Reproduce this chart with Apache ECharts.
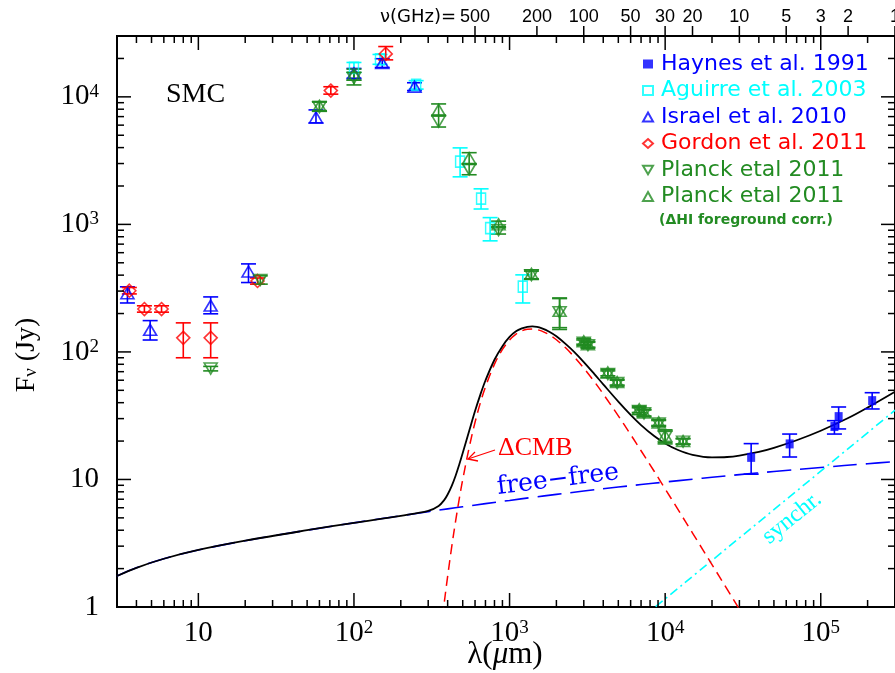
<!DOCTYPE html>
<html>
<head>
<meta charset="utf-8">
<title>SMC spectral energy distribution</title>
<script src="https://cdn.jsdelivr.net/npm/echarts@6/dist/echarts.min.js"></script>
<style>
  html, body { margin: 0; padding: 0; background: #ffffff; }
  #chart { width: 895px; height: 673px; }
</style>
</head>
<body>
<div id="chart"></div>
<script>
// ---------------------------------------------------------------------------
// Small Magellanic Cloud: integrated flux density F_nu (Jy) versus wavelength
// lambda (micron).  Each measurement row is [lambda, F, F_low, F_high].
// ---------------------------------------------------------------------------
const haynes1991 = [
  [35700, 14.9, 11.0, 19.1],
  [63100, 19.0, 15.0, 22.7],
  [122400, 26.0, 22.7, 28.9],
  [130300, 31.1, 24.9, 37.0],
  [214000, 41.5, 35.7, 47.9]
];
const aguirre2003 = [
  [100, 16900, 15500, 18600],
  [147, 19700, 18000, 21500],
  [251, 12400, 11500, 13400],
  [481, 3110, 2360, 3980],
  [656, 1590, 1320, 1900],
  [750, 934, 743, 1130],
  [1216, 325, 242, 402]
];
const israel2010 = [
  [3.5, 289, 242, 324],
  [4.9, 149, 124, 176],
  [12, 231, 199, 270],
  [21, 427, 350, 490],
  [57, 6900, 6250, 7900],
  [100, 15300, 14000, 16700],
  [152, 18400, 17000, 19900],
  [245, 12000, 11200, 12900]
];
const gordon2011 = [
  [3.6, 302, 285, 320],
  [4.5, 217, 205, 230],
  [5.8, 217, 205, 230],
  [8.0, 129, 90, 169],
  [12, 129, 90, 169],
  [24, 360, 340, 380],
  [71, 11200, 10500, 12000],
  [160, 21700, 19500, 24800]
];
const planck2011 = [
  [12, 74, 71, 77],
  [25, 367, 340, 395],
  [60, 8300, 7700, 9100],
  [100, 14000, 12400, 15600],
  [350, 6400, 5800, 7100],
  [550, 2700, 2450, 2950],
  [850, 900, 840, 960],
  [1382, 400, 370, 430],
  [2097, 205, 150, 262],
  [2998, 118, 112, 124],
  [3189, 113, 107, 119],
  [4283, 67, 63, 71],
  [4915, 57, 54, 60],
  [6813, 34.5, 32.5, 36.5],
  [7312, 33, 31, 35],
  [9085, 27.5, 26, 29],
  [9993, 21.5, 19, 24],
  [13034, 19.8, 18.8, 20.8]
];
const planck2011HI = [
  [60, 8500, 7800, 9200],
  [100, 15000, 13500, 16500],
  [350, 7900, 7200, 8800],
  [550, 3300, 3000, 3650],
  [850, 1000, 940, 1060],
  [1382, 410, 375, 440],
  [2097, 210, 155, 265],
  [2998, 121, 115, 127],
  [3189, 115, 109, 121],
  [4283, 69, 65, 73],
  [4915, 58, 55, 61],
  [6813, 35.5, 33.5, 37.5],
  [7312, 33.5, 31.5, 35.5],
  [9085, 28, 26.5, 29.5],
  [9993, 22, 19.5, 24.5],
  [13034, 20, 19, 21]
];

// Model components, [lambda, F]
const modelTotal = [
  [3, 1.75], [4, 2.03], [6, 2.39], [10, 2.80], [20, 3.31], [50, 4.00],
  [100, 4.57], [200, 5.19], [300, 5.66], [350, 6.19], [380, 6.89],
  [400, 7.62], [425, 8.90], [450, 10.7], [475, 13.1], [500, 16.1],
  [550, 24.0], [600, 34.4], [650, 46.5], [700, 59.7], [800, 86.8],
  [900, 111], [1000, 131], [1100, 145], [1200, 153], [1300, 157.5],
  [1400, 158.4], [1500, 157], [1600, 153.6], [1800, 144], [2000, 132.5],
  [2300, 115], [2600, 100], [3000, 83.2], [3500, 67.3], [4000, 55.7],
  [5000, 40.8], [6000, 32.1], [7000, 26.7], [8500, 21.9], [10000, 19.15],
  [12000, 17.1], [15000, 15.6], [20000, 14.9], [25000, 15.0], [30000, 15.4],
  [40000, 16.45], [50000, 17.7], [70000, 20.3], [100000, 24.1],
  [150000, 30.3], [200000, 36.6], [300000, 48.7]
];
const cmbExcess = [
  [360, 0.62], [370, 0.82], [380, 1.07], [400, 1.74], [425, 2.97], [450, 4.72],
  [475, 7.04], [500, 9.99], [550, 17.8], [600, 28.1], [650, 40.1],
  [700, 53.2], [800, 80.2], [900, 104.6], [1000, 124], [1100, 137.7],
  [1200, 146.2], [1300, 150.4], [1400, 151.2], [1500, 149.6], [1600, 146.2],
  [1800, 136.3], [2000, 124.6], [2300, 107.2], [2600, 91.7], [3000, 74.7],
  [3500, 58.6], [4000, 46.8], [5000, 31.5], [6000, 22.5], [7000, 16.8],
  [8500, 11.6], [10000, 8.44], [12000, 5.9], [15000, 3.8], [20000, 2.15],
  [25000, 1.38], [30000, 0.96], [35000, 0.71]
];
const freeFree = [
  [3, 1.75], [4, 2.03], [6, 2.39], [10, 2.80], [20, 3.31], [50, 4.00],
  [100, 4.57], [200, 5.19], [300, 5.59], [400, 5.88], [500, 6.11],
  [700, 6.46], [1000, 6.85], [1400, 7.24], [2000, 7.64], [3000, 8.11],
  [5000, 8.72], [7000, 9.12], [10000, 9.55], [15000, 10.05], [20000, 10.4],
  [30000, 10.91], [50000, 11.54], [100000, 12.42], [200000, 13.29],
  [300000, 13.8]
];
const synchrotron = [
  [7000, 0.81], [300000, 34.9]
];

// Axis ranges and tick labels
const lambdaRange = [3, 3e5];
const fluxRange = [1, 3e4];
const nuTicksGHz = [500, 200, 100, 50, 30, 20, 10, 5, 3, 2, 1];
const C_MICRON_GHZ = 299792.458; // lambda[micron] * nu[GHz]

const BLUE = '#0000ff', CYAN = '#00ffff', RED = '#ff0000', GREEN = '#228b22';
const SERIF = '"Liberation Serif", "DejaVu Serif", serif';
const WIDE_SERIF = '"DejaVu Serif", "Liberation Serif", serif';
const SANS = '"DejaVu Sans", "Liberation Sans", sans-serif';
const NARROW = '"Liberation Sans Narrow", "Liberation Sans", sans-serif';

// Marker shapes
const TRIANGLE_UP = 'triangle';
const TRIANGLE_DOWN = 'path://M0,0L20,0L10,17Z';

// Tick marks drawn inward on all four sides: [lambda, F, side, major]
const tickData = [];
for (let e = 0; e <= 5; e++) {
  for (let k = 1; k <= 9; k++) {
    const v = k * Math.pow(10, e);
    if (v < lambdaRange[0] || v > lambdaRange[1]) continue;
    tickData.push([v, fluxRange[0], 0, k === 1 ? 1 : 0]);
    tickData.push([v, fluxRange[1], 1, k === 1 ? 1 : 0]);
  }
}
for (let e = 0; e <= 4; e++) {
  for (let k = 1; k <= 9; k++) {
    const v = k * Math.pow(10, e);
    if (v < fluxRange[0] || v > fluxRange[1]) continue;
    tickData.push([lambdaRange[0], v, 2, k === 1 ? 1 : 0]);
    tickData.push([lambdaRange[1], v, 3, k === 1 ? 1 : 0]);
  }
}
const nuTickData = nuTicksGHz.map(nu => [C_MICRON_GHZ / nu, fluxRange[1], nu]);

function supFormatter(v) {
  const e = Math.round(Math.log10(v));
  if (e === 0) return '1';
  if (e === 1) return '10';
  return '10{s|' + e + '}';
}

function errorBars(name, data, color) {
  return {
    type: 'custom',
    name: name,
    data: data,
    z: 3,
    silent: true,
    encode: { x: 0, y: 1 },
    renderItem: function (params, api) {
      const x = api.value(0);
      const lo = api.coord([x, api.value(2)]);
      const hi = api.coord([x, api.value(3)]);
      const w = 7.5;
      const st = { stroke: color, lineWidth: 1.6 };
      return {
        type: 'group',
        children: [
          { type: 'line', shape: { x1: lo[0], y1: lo[1], x2: hi[0], y2: hi[1] }, style: st },
          { type: 'line', shape: { x1: lo[0] - w, y1: lo[1], x2: lo[0] + w, y2: lo[1] }, style: st },
          { type: 'line', shape: { x1: hi[0] - w, y1: hi[1], x2: hi[0] + w, y2: hi[1] }, style: st }
        ]
      };
    }
  };
}

function points(name, data, symbol, size, color, filled) {
  return {
    type: 'scatter',
    name: name,
    data: data.map(d => [d[0], d[1]]),
    symbol: symbol,
    symbolSize: size,
    z: 4,
    itemStyle: filled
      ? { color: color, borderWidth: 0 }
      : { color: 'rgba(0,0,0,0)', borderColor: color, borderWidth: 1.6 }
  };
}

function curve(name, data, color, type, width) {
  return {
    type: 'line',
    name: name,
    data: data,
    showSymbol: false,
    smooth: 0.35,
    clip: true,
    z: 2,
    silent: true,
    lineStyle: { color: color, type: type, width: width }
  };
}

function label(x, y, text, font, fill, align, rotation) {
  return {
    type: 'text', x: x, y: y, rotation: rotation || 0, silent: true,
    style: {
      text: text, font: font, fill: fill,
      textAlign: align, textVerticalAlign: 'middle', align: align, verticalAlign: 'middle'
    }
  };
}

const chart = echarts.init(document.getElementById('chart'), null, { renderer: 'canvas' });

chart.setOption({
  animation: false,
  backgroundColor: '#ffffff',
  grid: {
    left: 117, top: 36, width: 778, height: 571,
    outerBoundsMode: 'none', containLabel: false,
    show: true, borderColor: '#000', borderWidth: 2, backgroundColor: 'transparent'
  },
  xAxis: {
    type: 'log', logBase: 10, min: lambdaRange[0], max: lambdaRange[1],
    axisLine: { show: false }, axisTick: { show: false }, splitLine: { show: false },
    axisLabel: {
      margin: 12, showMinLabel: false, showMaxLabel: false,
      formatter: supFormatter,
      color: '#000', fontFamily: SERIF, fontSize: 29,
      rich: { s: { fontFamily: SERIF, fontSize: 19, verticalAlign: 'top', lineHeight: 14 } }
    }
  },
  yAxis: {
    type: 'log', logBase: 10, min: fluxRange[0], max: fluxRange[1],
    axisLine: { show: false }, axisTick: { show: false }, splitLine: { show: false },
    axisLabel: {
      margin: 18, showMaxLabel: false,
      formatter: supFormatter,
      color: '#000', fontFamily: SERIF, fontSize: 29,
      rich: { s: { fontFamily: SERIF, fontSize: 19, verticalAlign: 'top', lineHeight: 14 } }
    }
  },
  legend: {
    orient: 'vertical', left: 642, top: 53, itemGap: 4.5, padding: 0,
    itemWidth: 10, itemHeight: 9, selectedMode: false,
    textStyle: { fontFamily: SANS, fontSize: 22, padding: [0, 0, 0, 3] },
    data: [
      { name: 'Haynes et al. 1991', textStyle: { color: BLUE } },
      { name: 'Aguirre et al. 2003', textStyle: { color: CYAN } },
      { name: 'Israel et al. 2010', textStyle: { color: BLUE } },
      { name: 'Gordon et al. 2011', textStyle: { color: RED } },
      { name: 'Planck etal 2011', textStyle: { color: GREEN } },
      { name: 'Planck etal 2011 ', textStyle: { color: GREEN } }
    ]
  },
  graphic: [
    label(166, 95, 'SMC', '28px ' + SERIF, '#000', 'left'),
    label(659, 220, '(\u0394HI foreground corr.)', 'bold 14px ' + SANS, GREEN, 'left'),
    {
      type: 'text', x: 27, y: 355, rotation: Math.PI / 2, silent: true,
      style: {
        text: 'F{n|\u03bd} (Jy)', font: '28px ' + SERIF, fill: '#000',
        textAlign: 'center', textVerticalAlign: 'middle', align: 'center', verticalAlign: 'middle',
        rich: { n: { fontFamily: SERIF, fontSize: 19, verticalAlign: 'bottom', lineHeight: 8, fill: '#000', color: '#000' } }
      }
    },
    {
      type: 'text', x: 505, y: 655, silent: true,
      style: {
        text: '{n|\u03bb(}{i|\u03bc}{n|m)}', fill: '#000',
        textAlign: 'center', textVerticalAlign: 'middle', align: 'center', verticalAlign: 'middle',
        rich: {
          n: { fontFamily: SERIF, fontSize: 31, fill: '#000', color: '#000' },
          i: { fontFamily: SERIF, fontSize: 31, fontStyle: 'italic', fill: '#000', color: '#000' }
        }
      }
    },
    label(558, 480, 'free\u2212free', '25px ' + WIDE_SERIF, BLUE, 'center', 0.125),
    label(498, 448, '\u0394CMB', '26px ' + SERIF, RED, 'left'),
    { type: 'polyline', silent: true, shape: { points: [[495, 450], [468, 459]] }, style: { stroke: RED, lineWidth: 1.3, fill: null } },
    { type: 'polyline', silent: true, shape: { points: [[475, 452], [468, 459], [478, 461]] }, style: { stroke: RED, lineWidth: 1.3, fill: null } },
    label(792, 518, 'synchr.', '24px ' + SERIF, CYAN, 'center', 0.68),
    label(456, 17, '\u03bd(GHz)=', '18px ' + SANS, '#000', 'right')
  ],
  series: [
    curve('free-free', freeFree, BLUE, [24, 9], 1.6),
    curve('synchrotron', synchrotron, CYAN, [9, 4, 2, 4], 1.6),
    curve('CMB excess', cmbExcess, RED, [10, 6], 1.5),
    curve('total model', modelTotal, '#000', 'solid', 1.8),

    errorBars('err-haynes', haynes1991, BLUE),
    errorBars('err-aguirre', aguirre2003, CYAN),
    errorBars('err-israel', israel2010, BLUE),
    errorBars('err-gordon', gordon2011, RED),
    errorBars('err-planck', planck2011, GREEN),
    errorBars('err-planckHI', planck2011HI, GREEN),

    points('Haynes et al. 1991', haynes1991, 'rect', [8, 9], BLUE, true),
    points('Aguirre et al. 2003', aguirre2003, 'rect', [9, 11], CYAN, false),
    points('Israel et al. 2010', israel2010, TRIANGLE_UP, [13, 11], BLUE, false),
    points('Gordon et al. 2011', gordon2011, 'diamond', [13, 13], RED, false),
    points('Planck etal 2011', planck2011, TRIANGLE_DOWN, [13, 11], GREEN, false),
    points('Planck etal 2011 ', planck2011HI, TRIANGLE_UP, [13, 11], GREEN, false),

    {
      type: 'custom',
      name: 'axis-ticks',
      data: tickData,
      silent: true,
      z: 5,
      encode: { x: 0, y: 1 },
      renderItem: function (params, api) {
        const p = api.coord([api.value(0), api.value(1)]);
        const side = api.value(2);
        const len = api.value(3) ? 14 : 7;
        let x2 = p[0], y2 = p[1];
        if (side === 0) y2 -= len;
        else if (side === 1) y2 += len;
        else if (side === 2) x2 += len;
        else x2 -= len;
        return { type: 'line', shape: { x1: p[0], y1: p[1], x2: x2, y2: y2 }, style: { stroke: '#000', lineWidth: 1.5 } };
      }
    },
    {
      type: 'custom',
      name: 'frequency-axis',
      data: nuTickData,
      silent: true,
      z: 5,
      clip: false,
      encode: { x: 0, y: 1 },
      renderItem: function (params, api) {
        const p = api.coord([api.value(0), api.value(1)]);
        return {
          type: 'group',
          children: [
            { type: 'line', shape: { x1: p[0], y1: p[1], x2: p[0], y2: p[1] - 10 }, style: { stroke: '#000', lineWidth: 1.5 } },
            { type: 'text', x: p[0], y: 17, style: { text: String(api.value(2)), font: '18px ' + NARROW, fill: '#000', textAlign: 'center', textVerticalAlign: 'middle', align: 'center', verticalAlign: 'middle' } }
          ]
        };
      }
    }
  ]
});
</script>
</body>
</html>
